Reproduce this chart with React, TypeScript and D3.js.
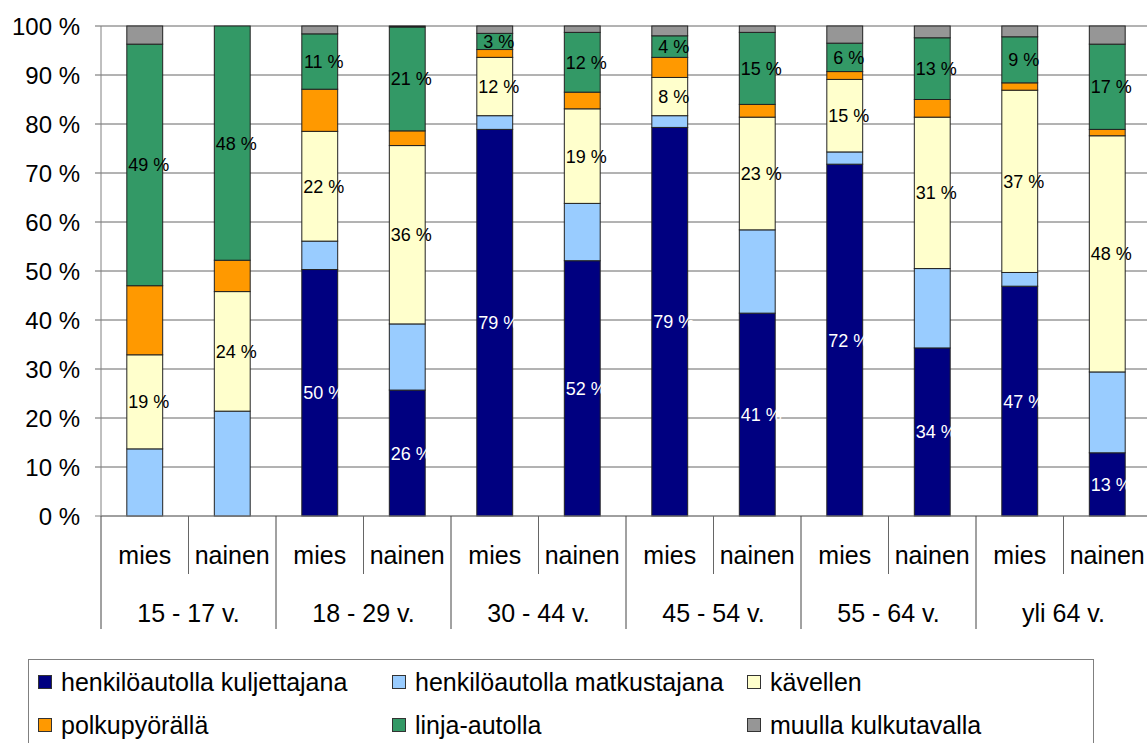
import React from 'react';
import * as d3 from 'd3';

// age groups and sexes (one bar per group x sex)
const ageGroups = ['15 - 17 v.', '18 - 29 v.', '30 - 44 v.', '45 - 54 v.', '55 - 64 v.', 'yli 64 v.'];
const sexes = ['mies', 'nainen'];

const seriesNames = [
  'henkilöautolla kuljettajana',
  'henkilöautolla matkustajana',
  'kävellen',
  'polkupyörällä',
  'linja-autolla',
  'muulla kulkutavalla',
];
const seriesColors = ['#000080', '#99CCFF', '#FFFFCC', '#FF9900', '#339966', '#969696'];

// values per bar in order: 15-17 mies, 15-17 nainen, 18-29 mies, ...
const kuljettajana = [0, 0, 50.3, 25.7, 78.9, 52.1, 79.3, 41.4, 71.8, 34.3, 46.9, 12.9];
const matkustajana = [13.7, 21.4, 5.8, 13.5, 2.8, 11.7, 2.4, 17.0, 2.5, 16.2, 2.8, 16.5];
const kavellen = [19.2, 24.4, 22.4, 36.4, 11.9, 19.3, 7.8, 23.0, 14.8, 30.9, 37.2, 48.2];
const polkupyora = [14.1, 6.4, 8.6, 3.0, 1.6, 3.4, 4.1, 2.6, 1.6, 3.6, 1.5, 1.3];
const linjaAuto = [49.3, 47.8, 11.3, 21.2, 3.3, 12.2, 4.4, 14.7, 5.8, 12.6, 9.4, 17.4];
const muulla = [3.7, 0, 1.6, 0.2, 1.5, 1.3, 2.0, 1.3, 3.5, 2.4, 2.2, 3.7];

const yTicks = [0, 10, 20, 30, 40, 50, 60, 70, 80, 90, 100];

// which series get a value label, and its colour
const labelColors: (string | null)[] = ['#ffffff', null, '#000000', null, '#000000', null];

const FONT = '"Liberation Sans", Arial, sans-serif';

export default function App() {
  const width = 1147;
  const height = 743;
  const margin = { left: 101, right: 1151, top: 26, bottom: 516 };

  const bars = ageGroups.flatMap((g) => sexes.map((s) => `${g}|${s}`));
  const rows = bars.map((key, i) => {
    const row: Record<string, number | string> = { key };
    const vals = [kuljettajana[i], matkustajana[i], kavellen[i], polkupyora[i], linjaAuto[i], muulla[i]];
    seriesNames.forEach((n, j) => (row[n] = vals[j]));
    return row;
  });

  const stacked = d3.stack<Record<string, number | string>>().keys(seriesNames)(rows as any);

  const x = d3
    .scaleBand<string>()
    .domain(bars)
    .range([margin.left, margin.right])
    .paddingInner(0.59)
    .paddingOuter(0.295);
  const step = x.step();
  const slotLeft = (k: string) => (x(k) as number) - step * 0.295;

  const y = d3.scaleLinear().domain([0, 100]).range([margin.bottom, margin.top]);

  const groupX = d3
    .scaleBand<string>()
    .domain(ageGroups)
    .range([margin.left, margin.left + step * bars.length]);

  return (
    <div style={{ position: 'fixed', left: 0, top: 0 }}>
      <svg width={width} height={height} style={{ display: 'block', background: '#fff' }} fontFamily={FONT}>
        {/* grid lines */}
        {yTicks.map((t) => (
          <g key={t}>
            <line x1={margin.left - 6} x2={width} y1={y(t)} y2={y(t)} stroke={t === 0 ? '#808080' : '#666'} strokeWidth={1} />
            <text x={80} y={y(t)} dy="0.36em" textAnchor="end" fontSize={24} fill="#000">
              {t} %
            </text>
          </g>
        ))}
        {/* y axis line */}
        <line x1={margin.left} x2={margin.left} y1={margin.top} y2={margin.bottom} stroke="#808080" />

        {/* stacked bars */}
        {stacked.map((layer, si) => (
          <g key={layer.key}>
            {layer.map((d, i) => {
              const h = y(d[0]) - y(d[1]);
              if (h <= 0) return null;
              return (
                <rect
                  key={i}
                  x={x(bars[i])}
                  y={y(d[1])}
                  width={x.bandwidth()}
                  height={h}
                  fill={seriesColors[si]}
                  stroke="#222"
                  strokeWidth={1}
                />
              );
            })}
          </g>
        ))}

        {/* value labels */}
        {stacked.map((layer, si) =>
          labelColors[si] == null
            ? null
            : layer.map((d, i) => {
                const v = d[1] - d[0];
                if (v < 2.5) return null;
                return (
                  <text
                    key={`${si}-${i}`}
                    x={(x(bars[i]) as number) + x.bandwidth() / 2 + 4}
                    y={y((d[0] + d[1]) / 2)}
                    dy="0.36em"
                    textAnchor="middle"
                    fontSize={18}
                    fill={labelColors[si] as string}
                  >
                    {Math.round(v)} %
                  </text>
                );
              })
        )}

        {/* category axis */}
        <line x1={margin.left} x2={width} y1={margin.bottom} y2={margin.bottom} stroke="#808080" />
        {bars.map((k, i) => {
          const left = slotLeft(k);
          const isGroupStart = i % 2 === 0;
          return (
            <g key={k}>
              <line
                x1={left}
                x2={left}
                y1={margin.bottom}
                y2={isGroupStart ? 629 : 574}
                stroke={isGroupStart ? '#444' : '#666'}
              />
              <text x={left + step / 2} y={555} dy="0.36em" textAnchor="middle" fontSize={25} fill="#000">
                {k.split('|')[1]}
              </text>
            </g>
          );
        })}
        {ageGroups.map((g) => (
          <text
            key={g}
            x={(groupX(g) as number) + groupX.bandwidth() / 2}
            y={613}
            dy="0.36em"
            textAnchor="middle"
            fontSize={25}
            fill="#000"
          >
            {g}
          </text>
        ))}

        {/* legend */}
        <rect x={28.5} y={659.5} width={1065} height={120} fill="#fff" stroke="#808080" />
        {seriesNames.map((n, i) => {
          const col = i % 3;
          const row = Math.floor(i / 3);
          const lx = [38, 392, 747][col];
          const ly = [682, 725][row];
          return (
            <g key={n}>
              <rect x={lx + 0.5} y={ly - 6.5} width={13} height={13} fill={seriesColors[i]} stroke="#333" />
              <text x={lx + 23} y={ly} dy="0.36em" fontSize={25} fill="#000">
                {n}
              </text>
            </g>
          );
        })}
      </svg>
    </div>
  );
}
